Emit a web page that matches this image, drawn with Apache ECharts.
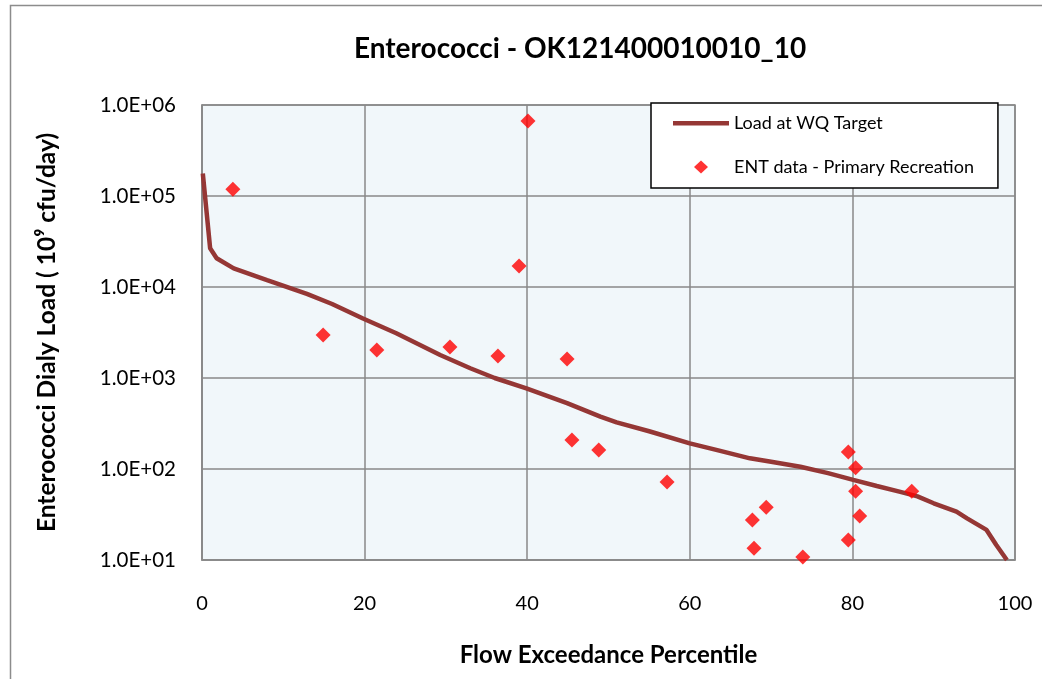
<!DOCTYPE html>
<html><head><meta charset="utf-8">
<script src="https://cdn.jsdelivr.net/npm/echarts@6/dist/echarts.min.js"></script>
<style>html,body{margin:0;padding:0;background:#fff}#c{width:1042px;height:679px}</style>
</head><body><div id="c"></div>
<script>
const lineData = [[0.1,177000],[1,26600],[1.8,20700],[3.9,16000],[8,11900],[12.9,8400],[16,6500],[19.8,4500],[23.9,3100],[29.3,1790],[33,1280],[36,1000],[39.9,770],[44.9,530],[49,376],[51,326],[55,260],[60,191],[63.5,160],[67.4,131],[70,120],[73.6,106],[77,90],[80.1,76],[83,65],[85.9,56],[88,50],[90,42],[92.8,34],[94.1,28.7],[96.5,21.4],[97.7,14.6],[99,10]];
const entData = [[3.8,119000],[40.1,667000],[39.0,17000],[14.9,2970],[21.5,2030],[30.5,2190],[36.4,1745],[44.9,1617],[45.5,208],[48.8,162],[57.2,72],[67.7,27.5],[67.9,13.5],[69.4,38],[73.9,10.8],[79.5,154],[80.4,103],[80.4,57],[80.9,30.5],[79.5,16.6],[87.3,57]];
const xTicks = [0,20,40,60,80,100];
const title = 'Enterococci - OK121400010010_10';
const seriesNames = ['Load at WQ Target','ENT data - Primary Recreation'];
const FONT = 'Lato, "Open Sans", sans-serif';
const chart = echarts.init(document.getElementById('c'));
chart.setOption({
  animation:false,
  backgroundColor:'#ffffff',
  graphic:[{type:'rect',shape:{x:10.5,y:5.5,width:1100,height:700},style:{fill:'none',stroke:'#8c8c8c',lineWidth:1.5},z:-1}],
  title:{text:title,left:575,top:30,textAlign:'center',textStyle:{fontFamily:FONT,fontWeight:'bold',fontSize:28,color:'#000'}},
  grid:{left:202,right:27,top:105,bottom:119,containLabel:false,outerBoundsMode:'none',show:true,backgroundColor:'#f1f7fa',borderColor:'#898989',borderWidth:1.5},
  legend:{
    orient:'vertical',left:651,top:103,
    backgroundColor:'#fff',borderColor:'#000',borderWidth:1.5,
    padding:[11,24,12,22],itemGap:26,itemWidth:56,itemHeight:14,
    textStyle:{fontFamily:FONT,fontSize:18,lineHeight:18,color:'#000'},
    data:[
      {name:seriesNames[0],icon:'path://M0,0 L0,0 M0,5 L56,5 L56,9.5 L0,9.5 Z M56,14 L56,14'},
      {name:seriesNames[1],icon:'path://M0,0 L0,0 M56,14 L56,14 M28,0.5 L35,7 L28,13.5 L21,7 Z'}
    ]
  },
  xAxis:{type:'value',min:0,max:100,interval:20,
    axisLine:{show:true,lineStyle:{color:'#898989',width:1.5}},axisTick:{show:false},
    splitLine:{show:true,lineStyle:{color:'#898989',width:1.5}},
    axisLabel:{fontFamily:FONT,fontSize:20,color:'#000',margin:34,formatter:v=>xTicks.includes(v)?String(v):''},
    name:'Flow Exceedance Percentile',nameLocation:'middle',nameGap:83,
    nameTextStyle:{fontFamily:FONT,fontWeight:'bold',fontSize:24,color:'#000'}},
  yAxis:{type:'log',logBase:10,min:10,max:1000000,
    axisLine:{show:true,lineStyle:{color:'#898989',width:1.5}},axisTick:{show:false},
    splitLine:{show:true,lineStyle:{color:'#898989',width:1.5}},
    axisLabel:{fontFamily:FONT,fontSize:20.5,color:'#000',margin:26,formatter:v=>{const e=Math.round(Math.log10(v));return '1.0E+'+(e<10?'0':'')+e;}},
    name:'Enterococci Dialy Load ( 10⁹ cfu/day)',nameLocation:'middle',nameGap:142,
    nameTextStyle:{fontFamily:FONT,fontWeight:'bold',fontSize:24.5,color:'#000'}},
  series:[
    {name:seriesNames[0],type:'line',data:lineData,showSymbol:false,symbol:'none',smooth:false,
      lineStyle:{color:'#953735',width:4.5},itemStyle:{color:'#953735'},z:2},
    {name:seriesNames[1],type:'scatter',data:entData,symbol:'diamond',symbolSize:15,
      itemStyle:{color:'#ff0000'},z:3}
  ]
});
</script></body></html>
